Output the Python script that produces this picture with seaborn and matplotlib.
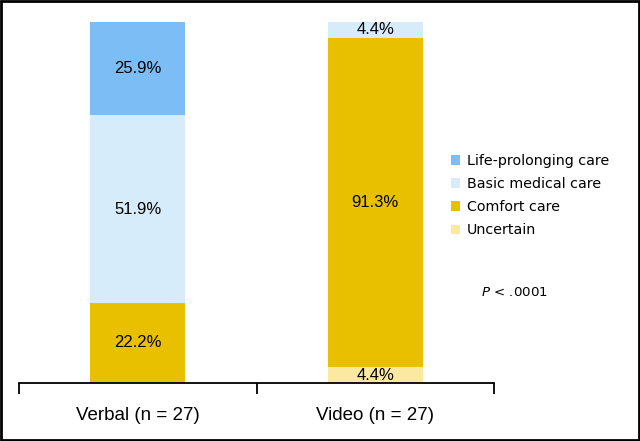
import matplotlib
matplotlib.use("Agg")
import matplotlib.pyplot as plt
import seaborn as sns
import numpy as np
from matplotlib.patches import Rectangle, Patch

groups = ["Verbal (n = 27)", "Video (n = 27)"]
categories = ["Uncertain", "Comfort care", "Basic medical care", "Life-prolonging care"]
uncertain = [0.0, 4.4]
comfort = [22.2, 91.3]
basic = [51.9, 4.4]
prolonging = [25.9, 0.0]
series = [uncertain, comfort, basic, prolonging]
colors = ["#fbe9a2", "#e8c000", "#d7ecfa", "#7dbdf5"]

sns.set_style("white")
plt.rcParams['font.family'] = ['Liberation Sans', 'DejaVu Sans']
plt.rcParams['text.color'] = 'black'
plt.rcParams['xtick.color'] = 'black'
plt.rcParams['xtick.labelcolor'] = 'black'

fig = plt.figure(figsize=(6.4, 4.41), dpi=100)
ax = fig.add_axes([19/640, 1-383/441, (494-19)/640, (383-22)/441])

bottom = np.zeros(len(groups))
for cat, vals, col in zip(categories, series, colors):
    vals = np.array(vals)
    sns.barplot(x=groups, y=vals, bottom=bottom, color=col, width=0.4,
                ax=ax, linewidth=0, saturation=1)
    for i, v in enumerate(vals):
        if v > 0:
            ax.text(i, bottom[i] + v/2, f"{v:.1f}%", ha="center", va="center",
                    fontsize=12, color="black")
    bottom = bottom + vals

ax.set_xlim(-0.5, 1.5)
ax.set_ylim(0, 100)
for s in ["top", "right", "left"]:
    ax.spines[s].set_visible(False)
ax.spines["bottom"].set_linewidth(1.3)
ax.spines["bottom"].set_color("black")
ax.set_yticks([])
ax.set_ylabel("")
ax.set_xticks([0, 1])
ax.set_xticklabels(groups, fontsize=13.5, color="black")
ax.tick_params(axis="x", which="major", length=0, pad=17, bottom=True)
ax.set_xticks([-0.5, 0.5, 1.5], minor=True)
ax.tick_params(axis="x", which="minor", length=8, width=1.3, direction="out",
               color="black", bottom=True, labelbottom=False)

handles = [Patch(facecolor=c, edgecolor="none") for c in colors[::-1]]
leg = fig.legend(handles, categories[::-1], loc="upper left", bbox_to_anchor=(438/640, 1-141/441),
                 frameon=False, prop={"family": "DejaVu Sans", "size": 10.3},
                 handlelength=0.65, handleheight=0.65,
                 handletextpad=0.45, labelspacing=0.64)
for t in leg.get_texts():
    t.set_color("black")

fig.text(481/640, 1-293/441, r"$P$ < .0001", fontsize=9.6, va="center", ha="left",
         family="DejaVu Sans", color="black")

fig.add_artist(Rectangle((0.002, 0.003), 0.996, 0.994, transform=fig.transFigure,
                         fill=False, edgecolor="black", linewidth=2))

fig.savefig("out.png", dpi=100)
